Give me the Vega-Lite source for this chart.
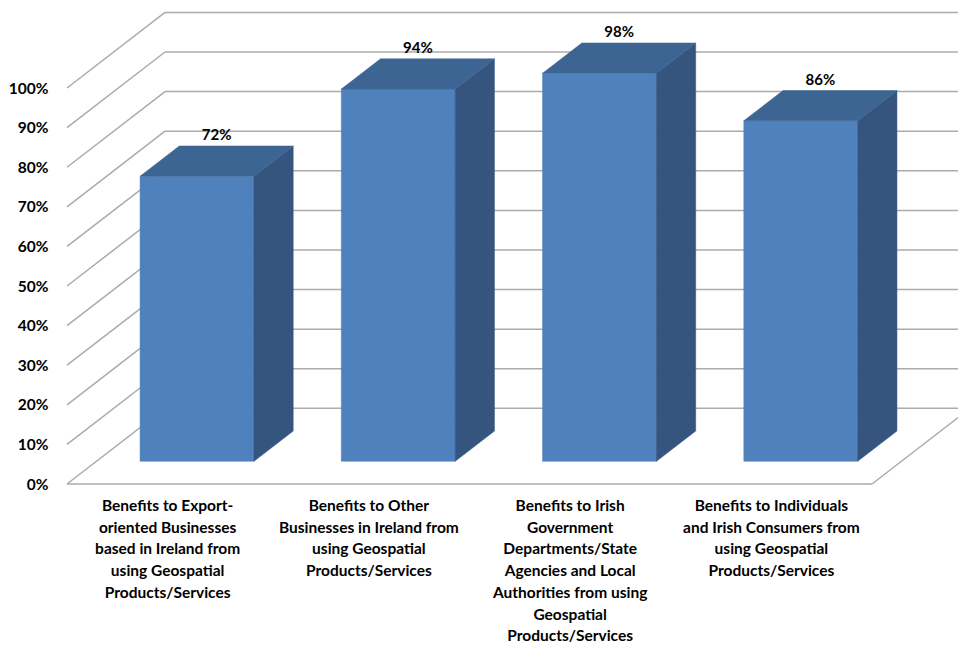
{
  "$schema": "https://vega.github.io/schema/vega-lite/v6.json",
  "width": 891,
  "height": 472,
  "autosize": {"type": "none"},
  "padding": {"left": 67, "top": 12, "right": 0, "bottom": 164},
  "background": "white",
  "config": {"view": {"stroke": null}, "font": "Lato"},
  "datasets": {
    "bars": [
      {"category": "Benefits to Export-\noriented Businesses\nbased in Ireland from\nusing Geospatial\nProducts/Services", "value": 72},
      {"category": "Benefits to Other\nBusinesses in Ireland from\nusing Geospatial\nProducts/Services", "value": 94},
      {"category": "Benefits to Irish\nGovernment\nDepartments/State\nAgencies and Local\nAuthorities from using\nGeospatial\nProducts/Services", "value": 98},
      {"category": "Benefits to Individuals\nand Irish Consumers from\nusing Geospatial\nProducts/Services", "value": 86}
    ],
    "ticks": [
      {"v": 0}, {"v": 10}, {"v": 20}, {"v": 30}, {"v": 40}, {"v": 50},
      {"v": 60}, {"v": 70}, {"v": 80}, {"v": 90}, {"v": 100}
    ]
  },
  "layer": [
    {
      "data": {"name": "ticks"},
      "transform": [
        {"calculate": "datum.v + 19.1", "as": "vb"},
        {"calculate": "0", "as": "x0"},
        {"calculate": "0.487", "as": "xd"},
        {"calculate": "4", "as": "xf"},
        {"calculate": "4.487", "as": "xe"}
      ],
      "layer": [
        {
          "mark": {"type": "rule", "color": "#ABABAB", "strokeWidth": 1.5},
          "encoding": {
            "x": {"field": "x0", "type": "quantitative", "scale": {"domain": [0, 4.4273], "nice": false, "zero": false}, "axis": null},
            "x2": {"field": "xd"},
            "y": {"field": "v", "type": "quantitative", "scale": {"domain": [0, 119.2], "nice": false},
              "axis": {"values": [0, 10, 20, 30, 40, 50, 60, 70, 80, 90, 100], "labelExpr": "datum.value + '%'", "domain": false, "ticks": false, "grid": false, "title": null, "labelFontSize": 15.5, "labelFontWeight": "bold", "labelFont": "Lato", "labelColor": "#000000", "labelPadding": 19}},
            "y2": {"field": "vb"}
          }
        },
        {
          "mark": {"type": "rule", "color": "#ABABAB", "strokeWidth": 1.5},
          "encoding": {
            "x": {"field": "xd", "type": "quantitative", "scale": {"domain": [0, 4.4273], "nice": false, "zero": false}, "axis": null},
            "x2": {"field": "xe"},
            "y": {"field": "vb", "type": "quantitative", "scale": {"domain": [0, 119.2], "nice": false}}
          }
        },
        {
          "transform": [{"filter": "datum.v == 0"}],
          "mark": {"type": "rule", "color": "#ABABAB", "strokeWidth": 1.5},
          "encoding": {
            "x": {"field": "x0", "type": "quantitative", "scale": {"domain": [0, 4.4273], "nice": false, "zero": false}, "axis": null},
            "x2": {"field": "xf"},
            "y": {"field": "v", "type": "quantitative", "scale": {"domain": [0, 119.2], "nice": false}}
          }
        },
        {
          "transform": [{"filter": "datum.v == 0"}],
          "mark": {"type": "rule", "color": "#ABABAB", "strokeWidth": 1.5},
          "encoding": {
            "x": {"field": "xf", "type": "quantitative", "scale": {"domain": [0, 4.4273], "nice": false, "zero": false}, "axis": null},
            "x2": {"field": "xe"},
            "y": {"field": "v", "type": "quantitative", "scale": {"domain": [0, 119.2], "nice": false}},
            "y2": {"field": "vb"}
          }
        }
      ]
    },
    {
      "data": {"name": "bars"},
      "transform": [
        {"window": [{"op": "row_number", "as": "r"}]},
        {"calculate": "datum.r - 0.5", "as": "c"},
        {"calculate": "datum.c - 0.137", "as": "xl"},
        {"calculate": "datum.c + 0.429", "as": "xr"},
        {"calculate": "5.73", "as": "base"},
        {"calculate": "datum.value + 5.73", "as": "vt"},
        {"calculate": "datum.c + 0.1461 + 0.0975", "as": "xm"},
        {"calculate": "datum.vt + 7.64", "as": "vtb"},
        {"calculate": "0", "as": "y0"},
        {"calculate": "datum.value + '%'", "as": "label"}
      ],
      "layer": [
        {
          "mark": {"type": "rect", "color": "#4F81BD", "stroke": "#4F81BD", "strokeWidth": 0.5},
          "encoding": {
            "x": {"field": "xl", "type": "quantitative", "scale": {"domain": [0, 4.4273], "nice": false, "zero": false}, "axis": null},
            "x2": {"field": "xr"},
            "y": {"field": "base", "type": "quantitative", "scale": {"domain": [0, 119.2], "nice": false}},
            "y2": {"field": "vt"}
          }
        },
        {
          "transform": [
            {"calculate": "0", "as": "p0"},
            {"calculate": "1", "as": "p1"},
            {"fold": ["p0", "p1"], "as": ["k", "t"]},
            {"calculate": "datum.xr + datum.t * 0.195", "as": "sx"},
            {"calculate": "datum.vt + datum.t * 7.64", "as": "sy"},
            {"calculate": "datum.base + datum.t * 7.64", "as": "sy2"}
          ],
          "mark": {"type": "area", "orient": "vertical", "color": "#35557F", "stroke": "#35557F", "strokeWidth": 0.5},
          "encoding": {
            "x": {"field": "sx", "type": "quantitative", "scale": {"domain": [0, 4.4273], "nice": false, "zero": false}, "axis": null},
            "y": {"field": "sy", "type": "quantitative", "scale": {"domain": [0, 119.2], "nice": false}},
            "y2": {"field": "sy2"},
            "detail": {"field": "r", "type": "nominal"}
          }
        },
        {
          "transform": [
            {"calculate": "0", "as": "p0"},
            {"calculate": "1", "as": "p1"},
            {"fold": ["p0", "p1"], "as": ["k", "t"]},
            {"calculate": "datum.xl + datum.t * 0.195", "as": "tx"},
            {"calculate": "datum.xr + datum.t * 0.195", "as": "tx2"},
            {"calculate": "datum.vt + datum.t * 7.64", "as": "sy"}
          ],
          "mark": {"type": "area", "orient": "horizontal", "color": "#3D6594", "stroke": "#3D6594", "strokeWidth": 0.5},
          "encoding": {
            "y": {"field": "sy", "type": "quantitative", "scale": {"domain": [0, 119.2], "nice": false}},
            "x": {"field": "tx", "type": "quantitative", "scale": {"domain": [0, 4.4273], "nice": false, "zero": false}, "axis": null},
            "x2": {"field": "tx2"},
            "detail": {"field": "r", "type": "nominal"}
          }
        },
        {
          "mark": {"type": "text", "font": "Lato", "fontSize": 15, "fontWeight": "bold", "color": "#000000", "baseline": "alphabetic", "align": "center", "dy": -6},
          "encoding": {
            "x": {"field": "xm", "type": "quantitative", "scale": {"domain": [0, 4.4273], "nice": false, "zero": false}, "axis": null},
            "y": {"field": "vtb", "type": "quantitative", "scale": {"domain": [0, 119.2], "nice": false}},
            "text": {"field": "label"}
          }
        },
        {
          "mark": {"type": "text", "font": "Lato", "fontSize": 15.5, "fontWeight": "bold", "color": "#000000", "baseline": "top", "align": "center", "dy": 15, "lineBreak": "\n", "lineHeight": 21.7},
          "encoding": {
            "x": {"field": "c", "type": "quantitative", "scale": {"domain": [0, 4.4273], "nice": false, "zero": false}, "axis": null},
            "y": {"field": "y0", "type": "quantitative", "scale": {"domain": [0, 119.2], "nice": false}},
            "text": {"field": "category"}
          }
        }
      ]
    }
  ]
}
